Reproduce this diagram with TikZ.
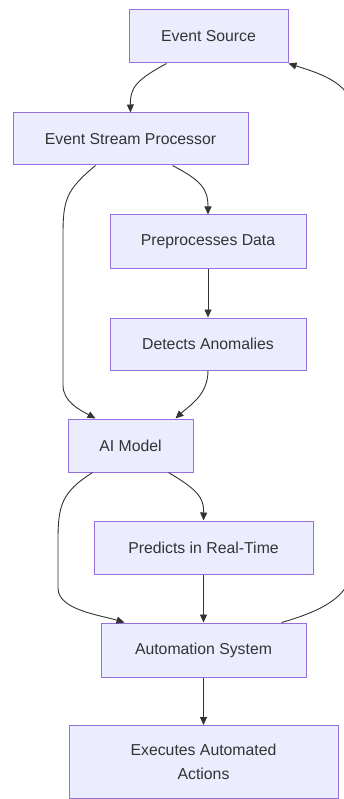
\documentclass[tikz,border=0pt]{standalone}
\usepackage{fontspec}
\setmainfont{Liberation Sans}
\usetikzlibrary{arrows.meta}
\definecolor{boxfill}{HTML}{ECECFF}
\definecolor{boxline}{HTML}{9370DB}
\definecolor{edgecol}{HTML}{333333}
\definecolor{txtcol}{HTML}{333333}
\tikzset{
  box/.style={draw=boxline, fill=boxfill, line width=1pt, text=txtcol,
    font=\fontsize{15.8}{24}\selectfont, align=center, inner sep=0pt},
  edge/.style={draw=edgecol, line width=0.9pt, -{Triangle[length=8pt,width=7pt]}}
}
\begin{document}
\begin{tikzpicture}[x=1pt,y=-1pt]
\useasboundingbox (0,0) rectangle (343,799);
\node[box, minimum width=159pt, minimum height=53pt] (src) at (208.5,36.5) {Event Source};
\node[box, minimum width=235pt, minimum height=52pt] (esp) at (130.5,139) {Event Stream Processor};
\node[box, minimum width=196pt, minimum height=53pt] (pre) at (208,241.5) {Preprocesses Data};
\node[box, minimum width=196pt, minimum height=52pt] (det) at (208,344) {Detects Anomalies};
\node[box, minimum width=125pt, minimum height=53pt] (ai) at (130.5,445.5) {AI Model};
\node[box, minimum width=219pt, minimum height=53pt] (pred) at (203.5,547.5) {Predicts in Real-Time};
\node[box, minimum width=205pt, minimum height=54pt] (auto) at (203.5,650) {Automation System};
\node[box, minimum width=269pt, minimum height=73pt] (exe) at (203.5,762) {Executes Automated\\Actions};

\draw[edge] ([xshift=-42pt]src.south) .. controls (136,80) and (130,88) .. (esp.north);
\draw[edge] ([xshift=42pt]esp.south) .. controls (200,180) and (208,188) .. (pre.north);
\draw[edge] ([xshift=-35pt]esp.south) .. controls (66,190) and (63,200) .. (63,235) -- (63,385) .. controls (63,402) and (80,410) .. ([xshift=-35pt]ai.north);
\draw[edge] (pre) -- (det);
\draw[edge] (det.south) .. controls (208,395) and (190,405) .. ([xshift=45pt]ai.north);
\draw[edge] ([xshift=38pt]ai.south) .. controls (198,490) and (204,498) .. (pred.north);
\draw[edge] ([xshift=-38pt]ai.south) .. controls (62,492) and (58,505) .. (58,540) -- (58,588) .. controls (58,610) and (100,615) .. ([xshift=-79pt]auto.north);
\draw[edge] (pred) -- (auto);
\draw[edge] ([xshift=78pt]auto.north) .. controls (325,610) and (352,595) .. (352,565) -- (352,110) .. controls (352,82) and (315,72) .. (src.south east);
\draw[edge] (auto) -- (exe);
\end{tikzpicture}
\end{document}
